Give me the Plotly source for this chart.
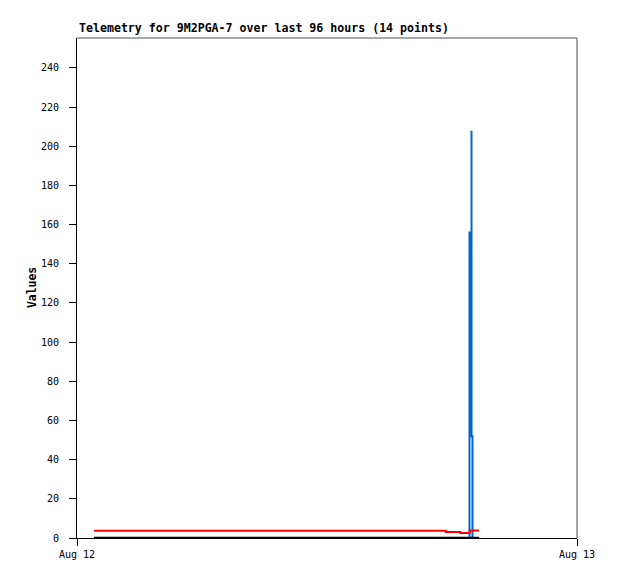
import plotly.graph_objects as go

# Data
red_times = ["2024-08-12 00:49", "2024-08-12 17:42", "2024-08-12 18:24",
             "2024-08-12 18:51", "2024-08-12 19:18"]
red_vals = [3.7, 3.1, 2.6, 3.8, 3.8]

blue_times = ["2024-08-12 00:49", "2024-08-12 18:50:24", "2024-08-12 18:50:24",
              "2024-08-12 18:56:10", "2024-08-12 18:56:10", "2024-08-12 18:56:10",
              "2024-08-12 18:59:02", "2024-08-12 18:59:02", "2024-08-12 19:18"]
blue_vals = [0, 0, 156, 156, 208, 52, 52, 0, 0]

black_times = ["2024-08-12 00:49", "2024-08-12 19:18"]
black_vals = [0.15, 0.15]

y_ticks = list(range(0, 260, 20))
x_ticks = ["2024-08-12 00:00", "2024-08-13 00:00"]
x_ticktext = ["Aug 12", "Aug 13"]

FONT = "DejaVu Sans Mono"

fig = go.Figure()
fig.add_trace(go.Scatter(x=blue_times, y=blue_vals, mode="lines",
                         line=dict(color="#0066cc", width=2), showlegend=False))
fig.add_trace(go.Scatter(x=red_times, y=red_vals, mode="lines", line_shape="hv",
                         line=dict(color="#ff0000", width=2), showlegend=False))
fig.add_trace(go.Scatter(x=black_times, y=black_vals, mode="lines",
                         line=dict(color="#000000", width=2), showlegend=False))

fig.update_layout(
    width=610, height=571,
    margin=dict(l=69, r=41, t=30, b=41),
    paper_bgcolor="white", plot_bgcolor="white",
    font=dict(family=FONT, size=10, color="black"),
    xaxis=dict(type="date", range=x_ticks, tickmode="array", tickvals=x_ticks,
               ticktext=x_ticktext, ticks="outside", ticklen=7, tickcolor="black",
               showline=True, linecolor="black", linewidth=1, showgrid=False,
               zeroline=False, tickfont=dict(family=FONT, size=10)),
    yaxis=dict(range=[0, 255.3], tickmode="array", tickvals=y_ticks,
               ticks="outside", ticklen=7, tickcolor="black",
               showline=True, linecolor="black", linewidth=1, showgrid=False,
               zeroline=False, ticklabelstandoff=8,
               tickfont=dict(family=FONT, size=10)),
    shapes=[
        dict(type="line", xref="paper", yref="paper", x0=0, x1=1, y0=1, y1=1,
             line=dict(color="#505050", width=1)),
        dict(type="line", xref="paper", yref="paper", x0=1, x1=1, y0=0, y1=1,
             line=dict(color="#505050", width=1)),
    ],
    annotations=[
        dict(text="<b>Telemetry for 9M2PGA-7 over last 96 hours (14 points)</b>",
             xref="paper", yref="paper", x=0, y=1, xanchor="left", yanchor="bottom",
             yshift=1, showarrow=False, font=dict(family=FONT, size=11.6)),
        dict(text="<b>Values</b>", xref="paper", yref="paper", x=0, y=0.5,
             xanchor="center", yanchor="middle", xshift=-45, textangle=-90,
             showarrow=False, font=dict(family=FONT, size=11.4)),
    ],
)

fig.write_html("out.html")
